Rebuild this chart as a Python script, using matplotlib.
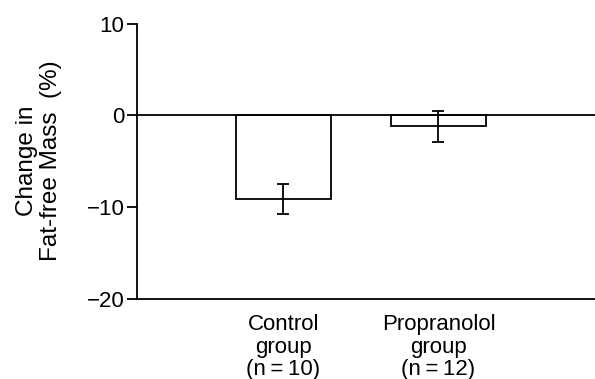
import matplotlib
matplotlib.use("Agg")
import matplotlib.pyplot as plt

categories = ["Control\ngroup\n(n\u2009=\u200910)", "Propranolol\ngroup\n(n\u2009=\u200912)"]
means = [-9.15, -1.2]
errors = [1.65, 1.7]
yticks = [10, 0, -10, -20]
ytick_labels = ["10", "0", "\u221210", "\u221220"]

plt.rcParams['font.family'] = ['Liberation Sans', 'DejaVu Sans']

fig = plt.figure(figsize=(5.95, 3.79), dpi=100)
ax = fig.add_axes([137/595, 1 - 298.7/379, 1 - 137/595, (298.7 - 23.5)/379])

x = [1, 2]
ax.bar(x, means, width=0.613, color="white", edgecolor="black", linewidth=1.3, zorder=2)
ax.errorbar(x, means, yerr=errors, fmt="none", ecolor="black", elinewidth=1.3,
            capsize=4.5, capthick=1.3, zorder=3)
ax.axhline(0, color="black", linewidth=1.3, zorder=4)

ax.set_xlim(0.055, 3.01)
ax.set_ylim(-20, 10)
ax.set_yticks(yticks)
ax.set_yticklabels(ytick_labels, fontsize=16)
ax.set_xticks(x)
ax.set_xticklabels(categories, fontsize=16, linespacing=1.1)
ax.tick_params(axis="x", length=0, pad=11)
ax.tick_params(axis="y", length=7, width=1.3, pad=2, direction="out")

for s in ["top", "right"]:
    ax.spines[s].set_visible(False)
for s in ["left", "bottom"]:
    ax.spines[s].set_linewidth(1.3)

ax.set_ylabel("Change in\nFat-free Mass  (%)", fontsize=17.5, linespacing=1.15)
ax.yaxis.set_label_coords(-0.163, 0.5)

fig.savefig("out.png", dpi=100)
